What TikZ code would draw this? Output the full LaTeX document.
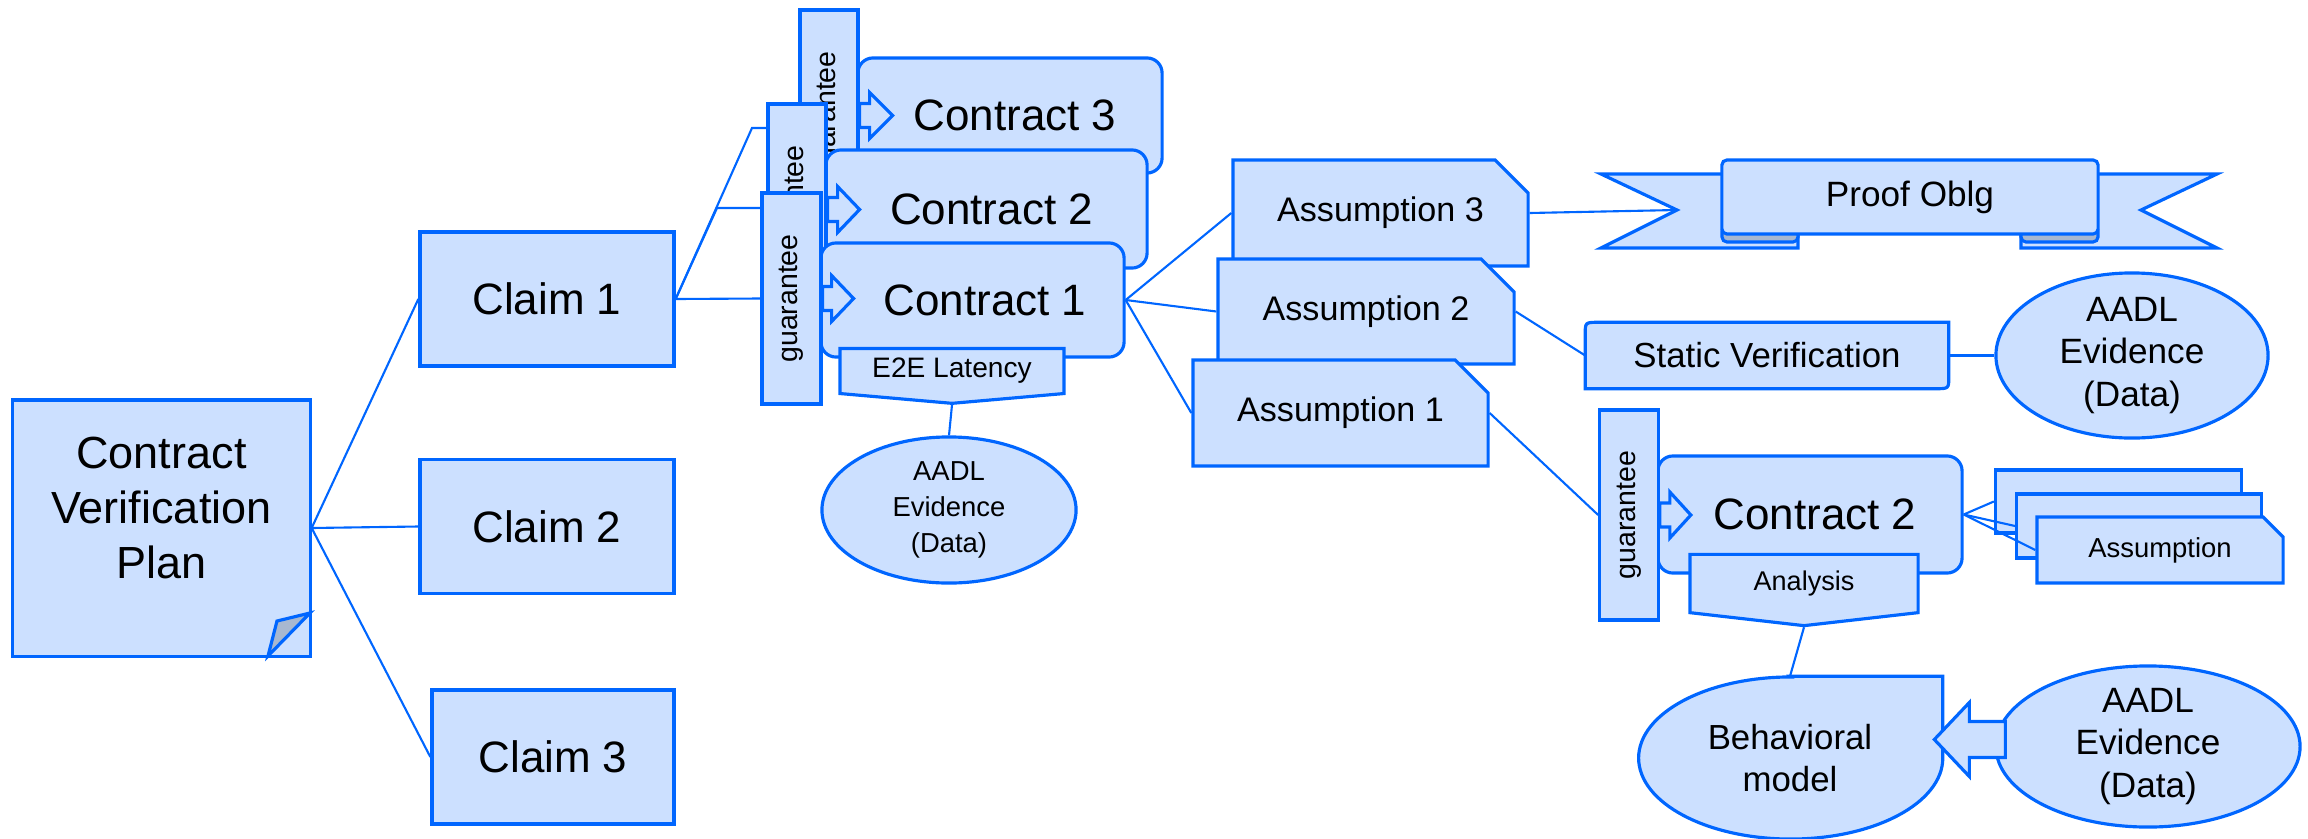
\documentclass[tikz,border=0pt]{standalone}
\usepackage{fontspec}
\usepackage{graphicx}
\setmainfont{Liberation Sans}
\usetikzlibrary{arrows, positioning, calc, backgrounds, shapes.misc, shapes.symbols, shapes.geometric}

\definecolor{boxfill}{RGB}{204,224,255}
\definecolor{boxline}{RGB}{0,102,255}
\definecolor{foldgray}{RGB}{168,184,208}

\newcommand{\fsz}[2]{\fontsize{#1}{#2}\selectfont}
\newcommand{\gArrow}[3]{\filldraw[outline] (#1.east) ++(0,-12) -- ++(#2,0) -- ++(0,-11) -- ++(#3,23) -- ++(-#3,23) -- ++(0,-11) -- ++(-#2,0) -- cycle;}

\begin{document}
\begin{tikzpicture}[x=0.01cm, y=-0.01cm]
	\tikzset{plainbox/.style={draw=boxline, fill=boxfill, line width=0.9pt, inner sep=0pt, align=center},
		rbox/.style={plainbox, rounded corners=0.15cm},
		cutbox/.style={plainbox, chamfered rectangle, chamfered rectangle corners=north east, chamfered rectangle xsep=0.17cm, chamfered rectangle ysep=0.17cm},
		tagbox/.style={plainbox, signal, signal to=south, signal from=nowhere},
		oval/.style={plainbox, ellipse, inner sep=-0.1cm},
		gbox/.style={plainbox, minimum height=2.11cm, font=\fsz{8.1}{10}},
		claim/.style={plainbox, minimum height=1.34cm, font=\fsz{12.5}{15}},
		bare/.style={inner sep=0pt, align=center},
		link/.style={draw=boxline, line width=0.6pt},
		outline/.style={draw=boxline, fill=boxfill, line width=0.9pt},
		fold/.style={draw=boxline, fill=foldgray, line width=0.9pt}}

	\useasboundingbox (0,0) rectangle (2308,839);

	\node[cutbox, chamfered rectangle corners=south east, chamfered rectangle xsep=0.42cm, chamfered rectangle ysep=0.43cm, minimum width=2.97cm, minimum height=2.56cm,
		label={[bare, yshift=0.2cm, font=\fsz{12.8}{15.6}]center:Contract\\Verification\\Plan}] (plan) at (161.5,528) {};
	\filldraw[fold] (310,613) -- (277,621) -- (268,656) -- cycle;

	\node[claim, minimum width=2.54cm] (claim1) at (547,299) {Claim 1};
	\node[claim, minimum width=2.54cm] (claim2) at (547,526.5) {Claim 2};
	\node[claim, minimum width=2.42cm] (claim3) at (553,757) {Claim 3};

	\node[rbox, minimum width=3.04cm, minimum height=1.15cm, font=\fsz{12.5}{15}] (ctr3) at (1010,115.5) {\hspace{0.1cm}Contract 3};
	\node[gbox, minimum width=0.58cm] (g3) at (829,115.5) {\rotatebox{90}{guarantee}};
	\gArrow{g3}{10}{23}
	\node[rbox, minimum width=3.21cm, minimum height=1.18cm, font=\fsz{12.5}{15}] (ctr2) at (986.5,209) {\hspace{0.1cm}Contract 2};
	\node[gbox, minimum width=0.58cm] (g2) at (797,209.5) {\rotatebox{90}{guarantee}};
	\gArrow{g2}{10}{22}
	\node[rbox, minimum width=3.03cm, minimum height=1.14cm, font=\fsz{12.5}{15}] (ctr1) at (972.5,300) {\hspace{0.25cm}Contract 1};
	\node[gbox, minimum width=0.59cm] (g1) at (791.5,298.5) {\rotatebox{90}{guarantee}};
	\gArrow{g1}{9}{22}
	\node[tagbox, signal pointer angle=170, minimum width=2.24cm, minimum height=0.52cm, font=\fsz{8}{10}] (e2e) at (952,371) {E2E Latency};
	\node[oval, minimum width=2.54cm, minimum height=1.46cm, font=\fsz{7.8}{10.2}] (ev1) at (949,510) {AADL\\Evidence\\(Data)};

	\node[cutbox, minimum width=2.95cm, minimum height=1.06cm, font=\fsz{9.7}{12}] (asm3) at (1380.5,213) {Assumption 3};
	\node[cutbox, minimum width=2.96cm, minimum height=1.05cm, font=\fsz{9.7}{12}] (asm2) at (1366,311.5) {Assumption 2};
	\node[cutbox, minimum width=2.95cm, minimum height=1.06cm, font=\fsz{9.7}{12}] (asm1) at (1340.5,413) {Assumption 1};

	\node[rbox, rounded corners=0.05cm, minimum width=3.76cm, minimum height=0.74cm, font=\fsz{10}{12}] (proof) at (1910,197) {Proof Oblg};
	\node[bare, minimum width=3.62cm, minimum height=0.65cm, font=\fsz{9.9}{12}] (sv) at (1767,355.5) {Static Verification};
	\node[oval, minimum width=2.72cm, minimum height=1.65cm, font=\fsz{10}{12}] (ev2) at (2132,355.5) {AADL\\Evidence\\(Data)};

	\node[rbox, minimum width=3.04cm, minimum height=1.17cm, font=\fsz{12.5}{15}] (lctr) at (1810,514.5) {\hspace{0.1cm}Contract 2};
	\node[gbox, minimum width=0.585cm, minimum height=2.10cm] (g4) at (1629,515) {\rotatebox{90}{guarantee}};
	\gArrow{g4}{10}{21}
	\node[tagbox, signal pointer angle=167, minimum width=2.28cm, minimum height=0.64cm, font=\fsz{7.7}{9}] (ana) at (1804,583.5) {Analysis};

	\node[cutbox, chamfered rectangle xsep=0.1cm, chamfered rectangle ysep=0.1cm, minimum width=2.46cm, minimum height=0.63cm] (stk1) at (2118.5,501.5) {};
	\node[cutbox, chamfered rectangle xsep=0.1cm, chamfered rectangle ysep=0.1cm, minimum width=2.445cm, minimum height=0.64cm] (stk2) at (2139,526) {};
	\node[cutbox, chamfered rectangle xsep=0.1cm, chamfered rectangle ysep=0.1cm, minimum width=2.46cm, minimum height=0.66cm, font=\fsz{7.8}{10}] (stk3) at (2160,550) {Assumption};

	\node[bare, ellipse, minimum width=3.04cm, minimum height=1.62cm, font=\fsz{9.9}{12}] (beh) at (1790,758) {Behavioral\\model};
	\node[oval, minimum width=3.04cm, minimum height=1.61cm, font=\fsz{10}{12}] (ev3) at (2148,746.5) {AADL\\Evidence\\(Data)};
	\filldraw[outline] (ev3.west) ++(11,-25) -- ++(-36,0) -- ++(0,-19) -- ++(-35,37) -- ++(35,37) -- ++(0,-19) -- ++(36,0) -- cycle;

	\begin{scope}[on background layer]
		\filldraw[outline] (1740,174) -- (1601,174) -- (1677,210) -- (1601,248) -- (1798,248) -- (1798,236) -- (1740,236) -- cycle;
		\filldraw[outline] (2080,174) -- (2217,174) -- (2141,210) -- (2217,248) -- (2021,248) -- (2021,236) -- (2080,236) -- cycle;
		\filldraw[fold, rounded corners=0.05cm] (1722,226) rectangle (1798,242);
		\filldraw[fold, rounded corners=0.05cm] (2021,226) rectangle (2098,242);
		\filldraw[outline] (sv.south west) -- ($(sv.north west)+(0,12)$) .. controls (sv.north west) .. ($(sv.north west)+(14,0)$) -- (sv.north east)
			-- ($(sv.south east)+(0,-12)$) .. controls (sv.south east) .. ($(sv.south east)+(-14,0)$) -- cycle;
		\filldraw[outline] (beh.north) -- (beh.north -| beh.east) -- (beh.east) arc[start angle=0, end angle=-270, x radius=1.52cm, y radius=0.81cm] -- cycle;
	\end{scope}

	\coordinate (bend2) at (717,208);
	\coordinate (bend3) at (752,128);
	\coordinate (notch) at (1677,210);

	\draw[link] (plan.east) edge (claim1.west) edge (claim2.west) edge (claim3.west);
	\draw[link] (claim1.east) -- (g1.west);
	\draw[link] (claim1.east) -- (bend2) -- (bend2 -| g1.west);
	\draw[link] (claim1.east) -- (bend3) -- (bend3 -| g2.west);
	\draw[link] (e2e.south) -- (ev1.north);
	\draw[link] (ctr1.east) edge (asm3.west) edge (asm2.west) edge (asm1.west);
	\draw[link] (asm3.east) -- (notch);
	\draw[link] (asm2.east) -- (sv.west);
	\draw[link] (sv.east) -- (ev2.west);
	\draw[link] (asm1.east) -- (g4.west);
	\draw[link] (lctr.east) edge (stk1.west) edge (stk2.west) edge (stk3.west);
	\draw[link] (ana.south) -- (beh.north);
\end{tikzpicture}
\end{document}
